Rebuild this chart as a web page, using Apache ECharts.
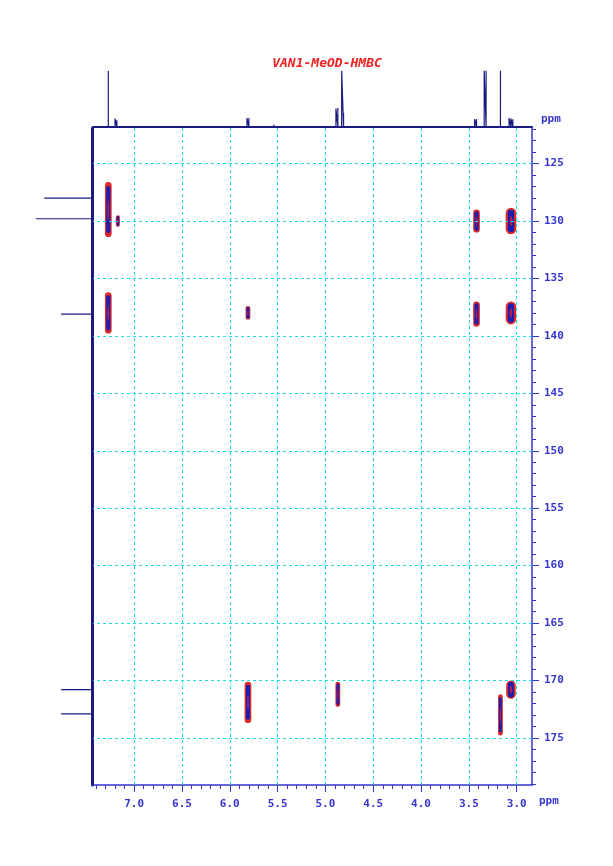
<!DOCTYPE html>
<html>
<head>
<meta charset="utf-8">
<script src="https://cdn.jsdelivr.net/npm/echarts@6/dist/echarts.min.js"></script>
<style>
html, body { margin: 0; padding: 0; background: #fff; }
#chart-container { width: 613px; height: 866px; }
</style>
</head>
<body>
<div id="chart-container"></div>
<script>
// 1H projection peaks: [ppm, relative height]
let protonPeaks = [
    [7.27, 1.0], [7.20, 0.15], [7.18, 0.12], [5.82, 0.16], [5.80, 0.16], [5.54, 0.04],
    [4.89, 0.33], [4.87, 0.34], [4.83, 1.0], [4.81, 0.25], [4.30, 0.03],
    [3.44, 0.14], [3.42, 0.14], [3.34, 1.0], [3.32, 1.0], [3.17, 1.0],
    [3.08, 0.16], [3.06, 0.15], [3.04, 0.14]
];
// 13C projection peaks: [ppm, relative height]
let carbonPeaks = [
    [128.0, 0.85], [129.8, 1.0], [138.1, 0.55], [170.8, 0.55], [172.9, 0.55]
];
// HMBC cross-peaks: [1H ppm, 13C ppm, half width (ppm), half height (ppm)]
let crossPeaks = [
    [7.27, 129.0, 0.035, 2.4],
    [7.17, 130.0, 0.012, 0.5],
    [7.27, 138.0, 0.035, 1.8],
    [5.81, 138.0, 0.025, 0.6],
    [3.42, 130.0, 0.035, 1.0],
    [3.06, 130.0, 0.055, 1.15],
    [3.42, 138.1, 0.035, 1.1],
    [3.06, 138.0, 0.055, 1.0],
    [5.81, 171.9, 0.035, 1.8],
    [4.87, 171.2, 0.025, 1.1],
    [3.17, 173.0, 0.025, 1.8],
    [3.06, 170.8, 0.05, 0.8]
];
let xMajorTicks = [7.0, 6.5, 6.0, 5.5, 5.0, 4.5, 4.0, 3.5, 3.0];
let xMinorTicks = [];
for (let v = 30; v <= 74; v++) xMinorTicks.push(v / 10);
let yMajorTicks = [125, 130, 135, 140, 145, 150, 155, 160, 165, 170, 175];
let yMinorTicks = [];
for (let v = 122; v <= 179; v++) yMinorTicks.push(v);

let xMin = 2.84, xMax = 7.43, yMin = 121.9, yMax = 179.1;
let blue = '#3535d0';
let labelFont = { color: blue, fontFamily: 'DejaVu Sans Mono', fontSize: 11, fontWeight: 'bold' };

// stick spectra built from peak lists
function sticks(peaks, lo, hi, swap) {
    let pts = [];
    let sorted = peaks.slice().sort(function(a, b) { return a[0] - b[0]; });
    pts.push([lo, 0]);
    sorted.forEach(function(p) {
        pts.push([p[0] - 0.0001, 0], [p[0], p[1]], [p[0] + 0.0001, 0]);
    });
    pts.push([hi, 0]);
    return swap ? pts.map(function(p) { return [p[1], p[0]]; }) : pts;
}

let dom = document.getElementById('chart-container');
let myChart = echarts.init(dom, null, { renderer: 'canvas' });

let gridLine = { silent: true, symbol: 'none', label: { show: false },
    lineStyle: { color: '#22dde0', type: [3, 3], width: 1 } };
let ppmStyle = { fill: blue, fontFamily: 'DejaVu Sans Mono', fontSize: 11, fontWeight: 'bold' };

let option = {
    animation: false,
    title: {
        text: 'VAN1-MeOD-HMBC', left: 322, top: 52, textAlign: 'center',
        textStyle: { color: '#ee2222', fontStyle: 'italic', fontWeight: 'bold',
            fontFamily: 'DejaVu Sans Mono', fontSize: 13 }
    },
    graphic: [
        { type: 'text', left: 541, top: 114, style: Object.assign({ text: 'ppm' }, ppmStyle) },
        { type: 'text', left: 539, top: 796, style: Object.assign({ text: 'ppm' }, ppmStyle) }
    ],
    grid: [
        { left: 93, right: 81, top: 128, bottom: 81 },
        { left: 93, right: 81, top: 68, bottom: 866 - 127 },
        { left: 33, right: 613 - 92, top: 128, bottom: 81 }
    ],
    xAxis: [
        { type: 'value', gridIndex: 0, min: xMin, max: xMax, inverse: true, position: 'bottom',
          axisLine: { lineStyle: { color: blue, width: 1.5 } },
          axisTick: { customValues: xMajorTicks, length: 7, lineStyle: { color: blue } },
          axisLabel: Object.assign({ customValues: xMajorTicks, margin: 14,
              formatter: function(v) { return v.toFixed(1); } }, labelFont),
          splitLine: { show: false } },
        { type: 'value', gridIndex: 0, min: xMin, max: xMax, inverse: true, position: 'bottom',
          axisLine: { show: false },
          axisTick: { customValues: xMinorTicks, length: 4, lineStyle: { color: blue } },
          axisLabel: { show: false }, splitLine: { show: false } },
        { type: 'value', gridIndex: 1, min: xMin, max: xMax, inverse: true,
          axisLine: { lineStyle: { color: '#1a1a80', width: 2 } },
          axisTick: { show: false }, axisLabel: { show: false }, splitLine: { show: false } },
        { type: 'value', gridIndex: 2, min: 0, max: 1.05, inverse: true,
          show: false }
    ],
    yAxis: [
        { type: 'value', gridIndex: 0, min: yMin, max: yMax, inverse: true, position: 'right',
          axisLine: { lineStyle: { color: blue, width: 1.5 } },
          axisTick: { customValues: yMajorTicks, length: 7, lineStyle: { color: blue } },
          axisLabel: Object.assign({ customValues: yMajorTicks, margin: 12 }, labelFont),
          splitLine: { show: false } },
        { type: 'value', gridIndex: 0, min: yMin, max: yMax, inverse: true, position: 'right',
          axisLine: { show: false },
          axisTick: { customValues: yMinorTicks, length: 4, lineStyle: { color: blue } },
          axisLabel: { show: false }, splitLine: { show: false } },
        { type: 'value', gridIndex: 1, min: 0, max: 1.05, show: false },
        { type: 'value', gridIndex: 2, min: yMin, max: yMax, inverse: true,
          position: 'right',
          axisLine: { lineStyle: { color: '#1a1a80', width: 3 } },
          axisTick: { show: false }, axisLabel: { show: false }, splitLine: { show: false } }
    ],
    series: [
        {
            type: 'custom', xAxisIndex: 0, yAxisIndex: 0, data: crossPeaks,
            renderItem: function(params, api) {
                let c = api.coord([api.value(0), api.value(1)]);
                let s = api.size([api.value(2), api.value(3)]);
                let rx = Math.max(Math.abs(s[0]), 2), ry = Math.abs(s[1]);
                return { type: 'group', children: [
                    { type: 'rect', shape: { x: c[0] - rx, y: c[1] - ry, width: rx * 2, height: ry * 2, r: rx },
                      style: { fill: '#dd2a2a' } },
                    { type: 'rect', shape: { x: c[0] - rx * 0.6, y: c[1] - ry * 0.85, width: rx * 1.2, height: ry * 1.7, r: rx * 0.6 },
                      style: { fill: '#1c1cb0' } },
                    { type: 'ellipse', shape: { cx: c[0], cy: c[1], rx: rx * 0.25, ry: ry * 0.4 },
                      style: { fill: '#aa2255' } }
                ] };
            },
            markLine: Object.assign({}, gridLine, {
                data: xMajorTicks.map(function(v) { return { xAxis: v }; })
                    .concat(yMajorTicks.map(function(v) { return { yAxis: v }; }))
            }),
            z: 3
        },
        {
            type: 'line', xAxisIndex: 2, yAxisIndex: 2, showSymbol: false,
            data: sticks(protonPeaks, xMin, xMax, false),
            lineStyle: { color: '#1a1a80', width: 1.2 }
        },
        {
            type: 'line', xAxisIndex: 3, yAxisIndex: 3, showSymbol: false,
            data: sticks(carbonPeaks, yMin, yMax, true),
            lineStyle: { color: '#1a1a80', width: 1.2 }
        }
    ]
};

myChart.setOption(option);
window.addEventListener('resize', myChart.resize);
</script>
</body>
</html>
